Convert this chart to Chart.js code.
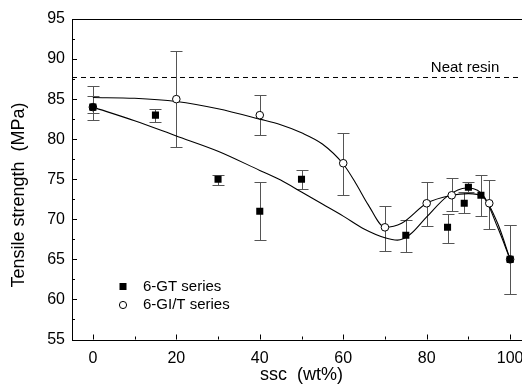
<!DOCTYPE html>
<html>
<head>
<meta charset="utf-8">
<script src="https://cdn.jsdelivr.net/npm/chart.js@4.4.0/dist/chart.umd.min.js"></script>
<style>
  html, body { margin: 0; padding: 0; background: #fff; overflow: hidden; }
  #wrap { width: 545px; height: 385px; }
</style>
</head>
<body>
<div id="wrap"><canvas id="chart"></canvas></div>
<script>
// 6-GT series (filled squares)
const gtSsc = [0, 15, 30, 40, 50, 75, 85, 89, 90, 93, 100];
const gtStrength = [84, 83, 75, 71, 75, 68, 69, 72, 74, 73, 65];
const gtLow = [83.3, 82.1, 74.3, 67.4, 73.8, 65.9, 67.1, 70.8, 73.4, 70.4, 60.7];
const gtHigh = [85.4, 83.8, 75.5, 74.6, 76.1, 69.9, 70.7, 73.4, 74.6, 75.5, 69.3];

// 6-GI/T series (open circles)
const gitSsc = [0, 20, 40, 60, 70, 80, 86, 95, 100];
const gitStrength = [84, 85, 83, 77, 69, 72, 73, 72, 65];
const gitLow = [82.4, 79.0, 80.5, 73.0, 66.1, 69.2, 71.0, 68.8, 60.7];
const gitHigh = [86.7, 91.0, 85.5, 80.8, 71.6, 74.6, 75.1, 74.9, 69.3];

// fitted curves
const gtFitX = [0, 10, 20, 30, 40, 45, 50, 55, 60, 65, 70, 73, 76, 80, 85, 89.5, 93, 97, 100];
const gtFitY = [84, 82.3, 80.4, 78.5, 76.1, 74.9, 73.4, 71.9, 70.4, 68.8, 67.7, 67.4, 68.1, 70.3, 72.9, 73.9, 73.3, 69.5, 65];
const gitFitX = [0, 10, 20, 30, 40, 45, 50, 55, 60, 63, 66, 70, 74, 80, 86, 90, 93.5, 97, 100];
const gitFitY = [85.2, 85.1, 84.7, 83.8, 82.5, 81.8, 80.8, 79.4, 76.9, 74.5, 71.8, 69, 69.5, 72, 73, 73.2, 72.8, 69, 65];

const neatResin = 87.7;
const xTicks = [0, 20, 40, 60, 80, 100];
const yTicks = [55, 60, 65, 70, 75, 80, 85, 90, 95];

const FONT = '"Liberation Sans", Arial, sans-serif';
const pts = (xs, ys) => xs.map((x, i) => ({x: x, y: ys[i]}));

const extras = {
  id: 'extras',
  beforeDatasetsDraw(chart) {
    const {ctx, scales: {x, y}} = chart;
    ctx.save();
    ctx.strokeStyle = '#555';
    ctx.lineWidth = 1;
    const bars = [[gtSsc, gtLow, gtHigh], [gitSsc, gitLow, gitHigh]];
    bars.forEach(([xs, lo, hi]) => {
      xs.forEach((v, i) => {
        const px = Math.round(x.getPixelForValue(v)) + 0.5;
        const y1 = Math.round(y.getPixelForValue(lo[i])) + 0.5;
        const y2 = Math.round(y.getPixelForValue(hi[i])) + 0.5;
        ctx.beginPath();
        ctx.moveTo(px, y1); ctx.lineTo(px, y2);
        ctx.moveTo(px - 6, y1); ctx.lineTo(px + 6, y1);
        ctx.moveTo(px - 6, y2); ctx.lineTo(px + 6, y2);
        ctx.stroke();
      });
    });
    ctx.restore();
  },
  afterDraw(chart) {
    const {ctx, chartArea: a, scales: {x, y}} = chart;
    ctx.save();
    ctx.strokeStyle = '#000';
    ctx.lineWidth = 1;
    ctx.strokeRect(Math.round(a.left) + 0.5, Math.round(a.top) + 0.5,
      Math.round(a.right - a.left), Math.round(a.bottom - a.top));
    // inward ticks
    ctx.beginPath();
    for (let v = 0; v <= 100; v += 10) {
      const px = Math.round(x.getPixelForValue(v)) + 0.5;
      const len = v % 20 === 0 ? 5 : 3;
      ctx.moveTo(px, a.bottom); ctx.lineTo(px, a.bottom - len);
    }
    for (let v = 55; v <= 95; v += 2.5) {
      const py = Math.round(y.getPixelForValue(v)) + 0.5;
      const len = v % 5 === 0 ? 5 : 3;
      ctx.moveTo(a.left, py); ctx.lineTo(a.left + len, py);
    }
    ctx.stroke();

    ctx.fillStyle = '#000';

    // y axis title
    ctx.save();
    ctx.translate(19.5, 195);
    ctx.rotate(-Math.PI / 2);
    ctx.font = '18px ' + FONT;
    ctx.textAlign = 'center';
    ctx.textBaseline = 'middle';
    ctx.fillText('Tensile strength  (MPa)', 0, 0);
    ctx.restore();

    // neat resin label
    ctx.font = '15px ' + FONT;
    ctx.textAlign = 'left';
    ctx.textBaseline = 'alphabetic';
    ctx.fillText('Neat resin', x.getPixelForValue(81), y.getPixelForValue(neatResin) - 5);

    // legend
    const lx = a.left + 51, ly = a.bottom - 53;
    ctx.fillRect(lx - 3.5, ly - 3.5, 7, 7);
    ctx.beginPath();
    ctx.arc(lx, ly + 18.5, 3.6, 0, Math.PI * 2);
    ctx.fillStyle = '#fff';
    ctx.fill();
    ctx.stroke();
    ctx.fillStyle = '#000';
    ctx.textBaseline = 'middle';
    ctx.fillText(chart.data.datasets[0].label, lx + 20, ly);
    ctx.fillText(chart.data.datasets[1].label, lx + 20, ly + 18.5);
    ctx.restore();
  }
};

new Chart(document.getElementById('chart'), {
  type: 'scatter',
  data: {
    datasets: [
      {
        label: '6-GT series',
        data: pts(gtSsc, gtStrength),
        pointStyle: 'rect',
        pointRadius: 5,
        backgroundColor: '#000',
        borderColor: '#000',
        borderWidth: 0,
        order: 0
      },
      {
        label: '6-GI/T series',
        data: pts(gitSsc, gitStrength),
        pointStyle: 'circle',
        pointRadius: 3.8,
        backgroundColor: '#fff',
        borderColor: '#000',
        borderWidth: 1,
        order: 0
      },
      {
        label: 'gt fit',
        data: pts(gtFitX, gtFitY),
        showLine: true,
        cubicInterpolationMode: 'monotone',
        pointRadius: 0,
        borderColor: '#000',
        borderWidth: 1.1,
        order: 1
      },
      {
        label: 'git fit',
        data: pts(gitFitX, gitFitY),
        showLine: true,
        cubicInterpolationMode: 'monotone',
        pointRadius: 0,
        borderColor: '#000',
        borderWidth: 1.1,
        order: 1
      },
      {
        label: 'Neat resin',
        data: pts([-5, 105], [neatResin, neatResin]),
        showLine: true,
        pointRadius: 0,
        borderColor: '#000',
        borderWidth: 1,
        borderDash: [5, 4],
        order: 2
      }
    ]
  },
  options: {
    responsive: true,
    maintainAspectRatio: false,
    animation: false,
    layout: {padding: {top: 19, right: 14, bottom: 0, left: 0}},
    plugins: {legend: {display: false}, tooltip: {enabled: false}},
    scales: {
      x: {
        type: 'linear',
        min: -5,
        max: 105,
        afterBuildTicks: s => { s.ticks = xTicks.map(v => ({value: v})); },
        afterFit: s => { s.height = 45.5; },
        grid: {display: false, drawTicks: false},
        border: {display: false},
        ticks: {color: '#000', padding: 9, font: {family: FONT, size: 16}},
        title: {display: true, text: 'ssc  (wt%)', color: '#000',
          font: {family: FONT, size: 18}, padding: {top: 0, bottom: -1}}
      },
      y: {
        min: 55,
        max: 95,
        afterBuildTicks: s => { s.ticks = yTicks.map(v => ({value: v})); },
        afterFit: s => { s.width = 72; },
        grid: {display: false, drawTicks: false},
        border: {display: false},
        ticks: {color: '#000', padding: 7, font: {family: FONT, size: 16}}
      }
    }
  },
  plugins: [extras]
});
</script>
</body>
</html>
